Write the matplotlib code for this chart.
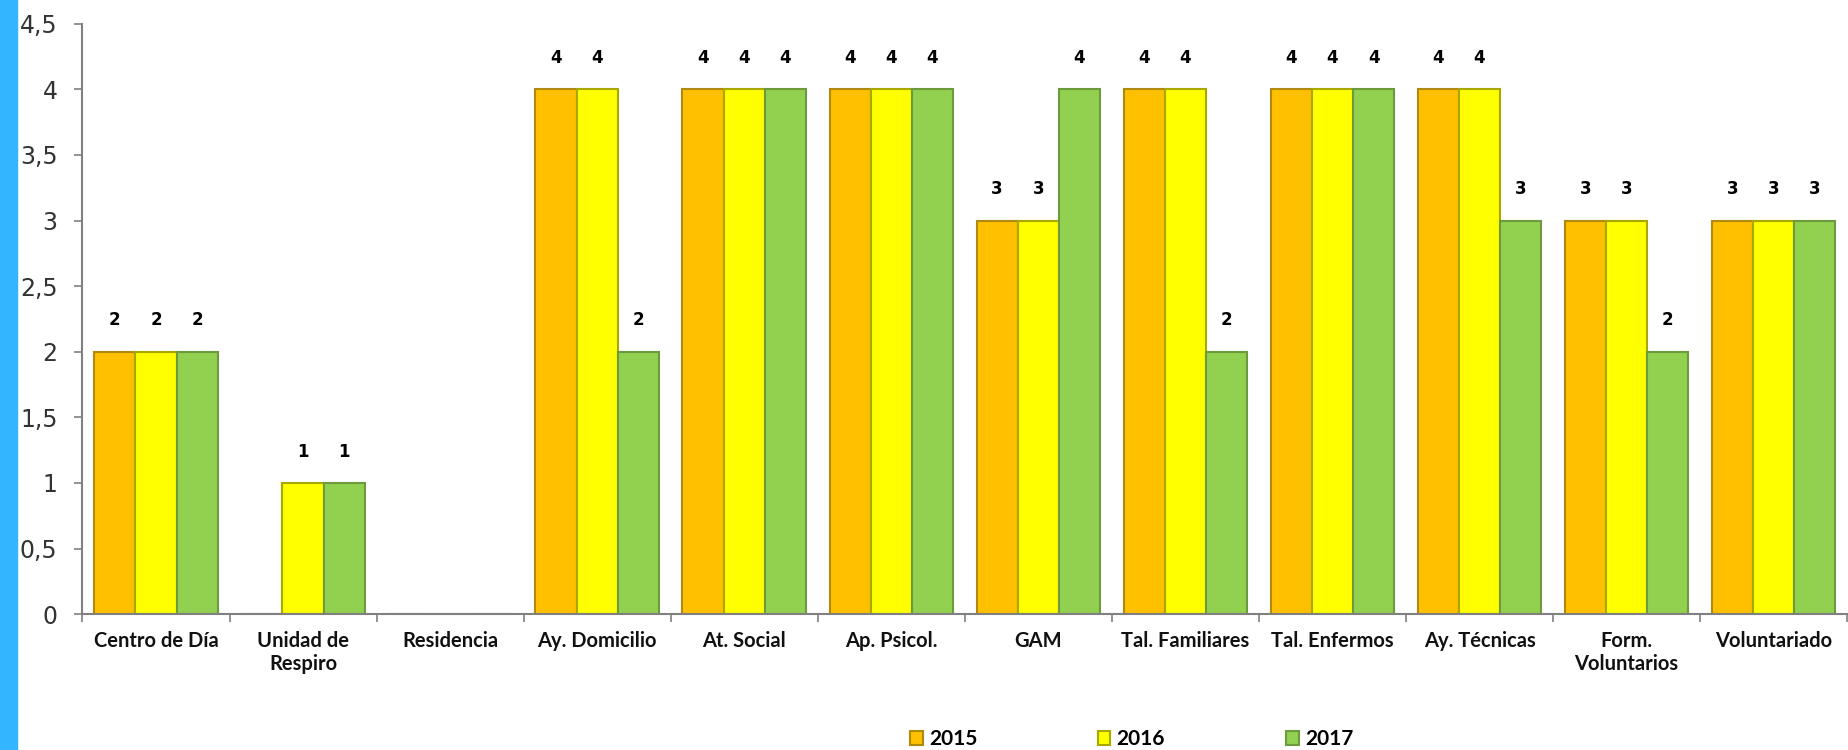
import numpy as np
import matplotlib
matplotlib.use("Agg")
import matplotlib.pyplot as plt
from matplotlib import font_manager as fm
from matplotlib.patches import Rectangle

categories = ["Centro de Día", "Unidad de\nRespiro", "Residencia", "Ay. Domicilio",
              "At. Social", "Ap. Psicol.", "GAM", "Tal. Familiares", "Tal. Enfermos",
              "Ay. Técnicas", "Form.\nVoluntarios", "Voluntariado"]
years = ["2015", "2016", "2017"]
v2015 = [2, 0, 0, 4, 4, 4, 3, 4, 4, 4, 3, 3]
v2016 = [2, 1, 0, 4, 4, 4, 3, 4, 4, 4, 3, 3]
v2017 = [2, 1, 0, 2, 4, 4, 4, 2, 4, 3, 2, 3]
yticks = [0, 0.5, 1, 1.5, 2, 2.5, 3, 3.5, 4, 4.5]

colors = ["#FFC000", "#FFFF00", "#92D050"]
edges = ["#B08A10", "#A8A800", "#6E9A3E"]

names = {f.name for f in fm.fontManager.ttflist}
narrow = "Lato" if "Lato" in names else "DejaVu Sans"

fig = plt.figure(figsize=(18.49, 7.5), dpi=100)
fig.patches.append(Rectangle((0, 0), 17 / 1849, 1, transform=fig.transFigure,
                             color="#33B5FF", zorder=0))
ax = fig.add_axes([0.0446, 0.181, 0.9544, 0.7875])

x = np.arange(len(categories))
w = 0.28
series = [v2015, v2016, v2017]
for i, (vals, c, e, yr) in enumerate(zip(series, colors, edges, years)):
    pos = x + (i - 1) * w
    ax.bar(pos, vals, width=w, color=c, edgecolor=e, linewidth=1.5, label=yr, zorder=2)
    for p, v in zip(pos, vals):
        if v > 0:
            ax.text(p, v + 0.17, str(v), ha="center", va="bottom", fontsize=12,
                    fontweight="bold", color="black", family="DejaVu Sans")

ax.set_xlim(-0.5, len(categories) - 0.5)
ax.set_ylim(0, 4.5)
ax.set_yticks(yticks)
ax.set_yticklabels([str(t).replace(".", ",").replace(",0", "") for t in yticks],
                   fontsize=17, color="#333333")
ax.set_xticks(x)
ax.set_xticklabels(categories, fontsize=14.5, family=narrow, fontweight="bold", color="#111111")
ax.tick_params(axis="x", which="major", length=0, pad=12)
ax.set_xticks(np.arange(len(categories) + 1) - 0.5, minor=True)
ax.tick_params(axis="x", which="minor", length=6, color="#808080", width=1.2)
ax.tick_params(axis="y", length=6, color="#808080", width=1.2, pad=12)
for s in ["top", "right"]:
    ax.spines[s].set_visible(False)
for s in ["left", "bottom"]:
    ax.spines[s].set_color("#808080")
    ax.spines[s].set_linewidth(1.5)

leg = fig.legend(loc="lower center", bbox_to_anchor=(0.612, -0.024), ncol=3, frameon=False,
                 handlelength=0.6, handleheight=0.6, columnspacing=5.8,
                 handletextpad=0.3, prop={"family": narrow, "weight": "bold", "size": 15})

fig.savefig("out.png", dpi=100, facecolor="white")
